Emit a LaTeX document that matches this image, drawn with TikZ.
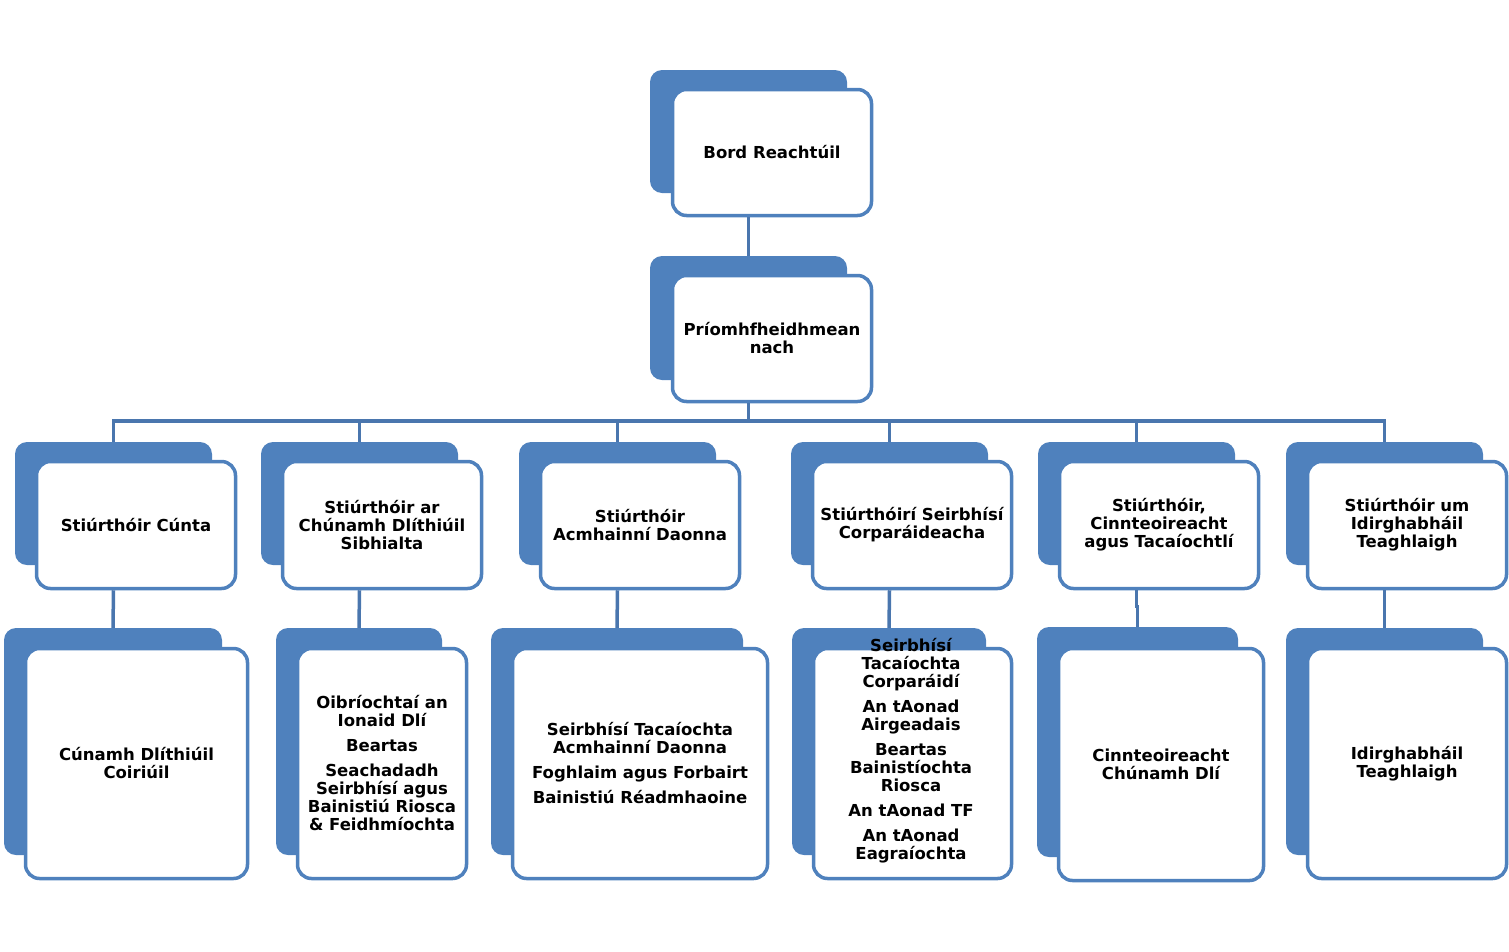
\documentclass[tikz,border=0pt]{standalone}
\usepackage{fontspec}
\setmainfont{DejaVu Sans}
\definecolor{orgblue}{HTML}{4F81BD}
\definecolor{linkblue}{HTML}{4A76AE}
\tikzset{
  back/.style={fill=orgblue, rounded corners=12pt, inner sep=0pt},
  front/.style={draw=orgblue, line width=3.5pt, fill=white, rounded corners=14pt,
    inner sep=0pt, align=center, font=\bfseries\fontsize{16.5}{18}\selectfont},
  txt/.style={align=center, inner sep=0pt, font=\bfseries\fontsize{16.5}{18}\selectfont},
  link/.style={draw=linkblue, line width=3.5pt}
}
\begin{document}
\begin{tikzpicture}[x=1pt, y=-1pt]
  \useasboundingbox (0, 0) rectangle (1509, 951);

  %% top
  \node[back, minimum width=197pt, minimum height=123pt] (bordB) at (748.5, 131.5) {};
  \node[front, minimum width=199pt, minimum height=126pt] (bordF) at (772, 152.5) {Bord Reachtúil};

  \node[back, minimum width=197pt, minimum height=124pt] (priomhB) at (748.5, 318) {};
  \node[front, minimum width=199pt, minimum height=126pt] (priomhF) at (772, 338.5) {Príomhfheidhmean\\nach};

  %% row 2
  \node[back, minimum width=197pt, minimum height=123pt] (s1B) at (113.5, 503.5) {};
  \node[front, minimum width=199pt, minimum height=127pt] (s1F) at (136, 525) {Stiúrthóir Cúnta};

  \node[back, minimum width=197pt, minimum height=123pt] (s2B) at (359.5, 503.5) {};
  \node[front, minimum width=199pt, minimum height=127pt] (s2F) at (382, 525) {Stiúrthóir ar\\Chúnamh Dlíthiúil\\Sibhialta};

  \node[back, minimum width=197pt, minimum height=123pt] (s3B) at (617.5, 503.5) {};
  \node[front, minimum width=199pt, minimum height=127pt] (s3F) at (640, 525) {Stiúrthóir\\Acmhainní Daonna};

  \node[back, minimum width=197pt, minimum height=123pt] (s4B) at (889.5, 503.5) {};
  \node[front, minimum width=199pt, minimum height=127pt] (s4F) at (912, 525) {Stiúrthóirí Seirbhísí\\Corparáideacha};

  \node[back, minimum width=197pt, minimum height=123pt] (s5B) at (1136.5, 503.5) {};
  \node[front, minimum width=199pt, minimum height=127pt] (s5F) at (1159, 525) {Stiúrthóir,\\Cinnteoireacht\\agus Tacaíochtlí};

  \node[back, minimum width=197pt, minimum height=123pt] (s6B) at (1384.5, 503.5) {};
  \node[front, minimum width=199pt, minimum height=127pt] (s6F) at (1407, 525) {Stiúrthóir um\\Idirghabháil\\Teaghlaigh};

  %% row 3
  \node[back, minimum width=218pt, minimum height=227pt] (u1B) at (113, 741.5) {};
  \node[front, minimum width=222pt, minimum height=230pt] (u1F) at (136.5, 763.5) {Cúnamh Dlíthiúil\\Coiriúil};

  \node[back, minimum width=166pt, minimum height=227pt] (u2B) at (359, 741.5) {};
  \node[front, minimum width=169pt, minimum height=230pt] (u2F) at (382, 763.5)
    {Oibríochtaí an\\Ionaid Dlí\\[7pt]Beartas\\[7pt]Seachadadh\\Seirbhísí agus\\Bainistiú Riosca\\\& Feidhmíochta};

  \node[back, minimum width=252pt, minimum height=227pt] (u3B) at (617, 741.5) {};
  \node[front, minimum width=255pt, minimum height=230pt] (u3F) at (640, 763.5)
    {Seirbhísí Tacaíochta\\Acmhainní Daonna\\[7pt]Foghlaim agus Forbairt\\[7pt]Bainistiú Réadmhaoine};

  \node[back, minimum width=194pt, minimum height=227pt] (u4B) at (889, 741.5) {};
  \node[front, minimum width=198pt, minimum height=230pt] (u4F) at (912.5, 763.5) {};
  \node[txt] (u4T) at (911, 751)
    {Seirbhísí\\Tacaíochta\\Corparáidí\\[7pt]An tAonad\\Airgeadais\\[7pt]Beartas\\Bainistíochta\\Riosca\\[7pt]An tAonad TF\\[7pt]An tAonad\\Eagraíochta};

  \node[back, minimum width=201pt, minimum height=230pt] (u5B) at (1137.5, 742) {};
  \node[front, minimum width=205pt, minimum height=232pt] (u5F) at (1161, 764.5) {Cinnteoireacht\\Chúnamh Dlí};

  \node[back, minimum width=197pt, minimum height=227pt] (u6B) at (1384.5, 741.5) {};
  \node[front, minimum width=199pt, minimum height=230pt] (u6F) at (1407, 763.5) {Idirghabháil\\Teaghlaigh};

  %% links
  \coordinate (bus) at (748.5, 421);
  \draw[link] (bordF.south -| bordB) -- (priomhB.north);
  \draw[link] (priomhF.south -| priomhB) -- (priomhB |- bus);
  \draw[link] (s1B.north) -- (s1B.north |- bus) -- (s6B.north |- bus) -- (s6B.north);
  \foreach \s in {s2, s3, s4, s5}
    \draw[link] (\s B.north) -- (\s B.north |- bus);

  \foreach \s/\u in {s1/u1, s2/u2, s3/u3, s4/u4, s6/u6}
    \draw[link] (\s F.south -| \s B) -- (\u B.north);
  \draw[link] (s5F.south -| s5B) -- ++(0, 16) -| (u5B.north);
\end{tikzpicture}
\end{document}
